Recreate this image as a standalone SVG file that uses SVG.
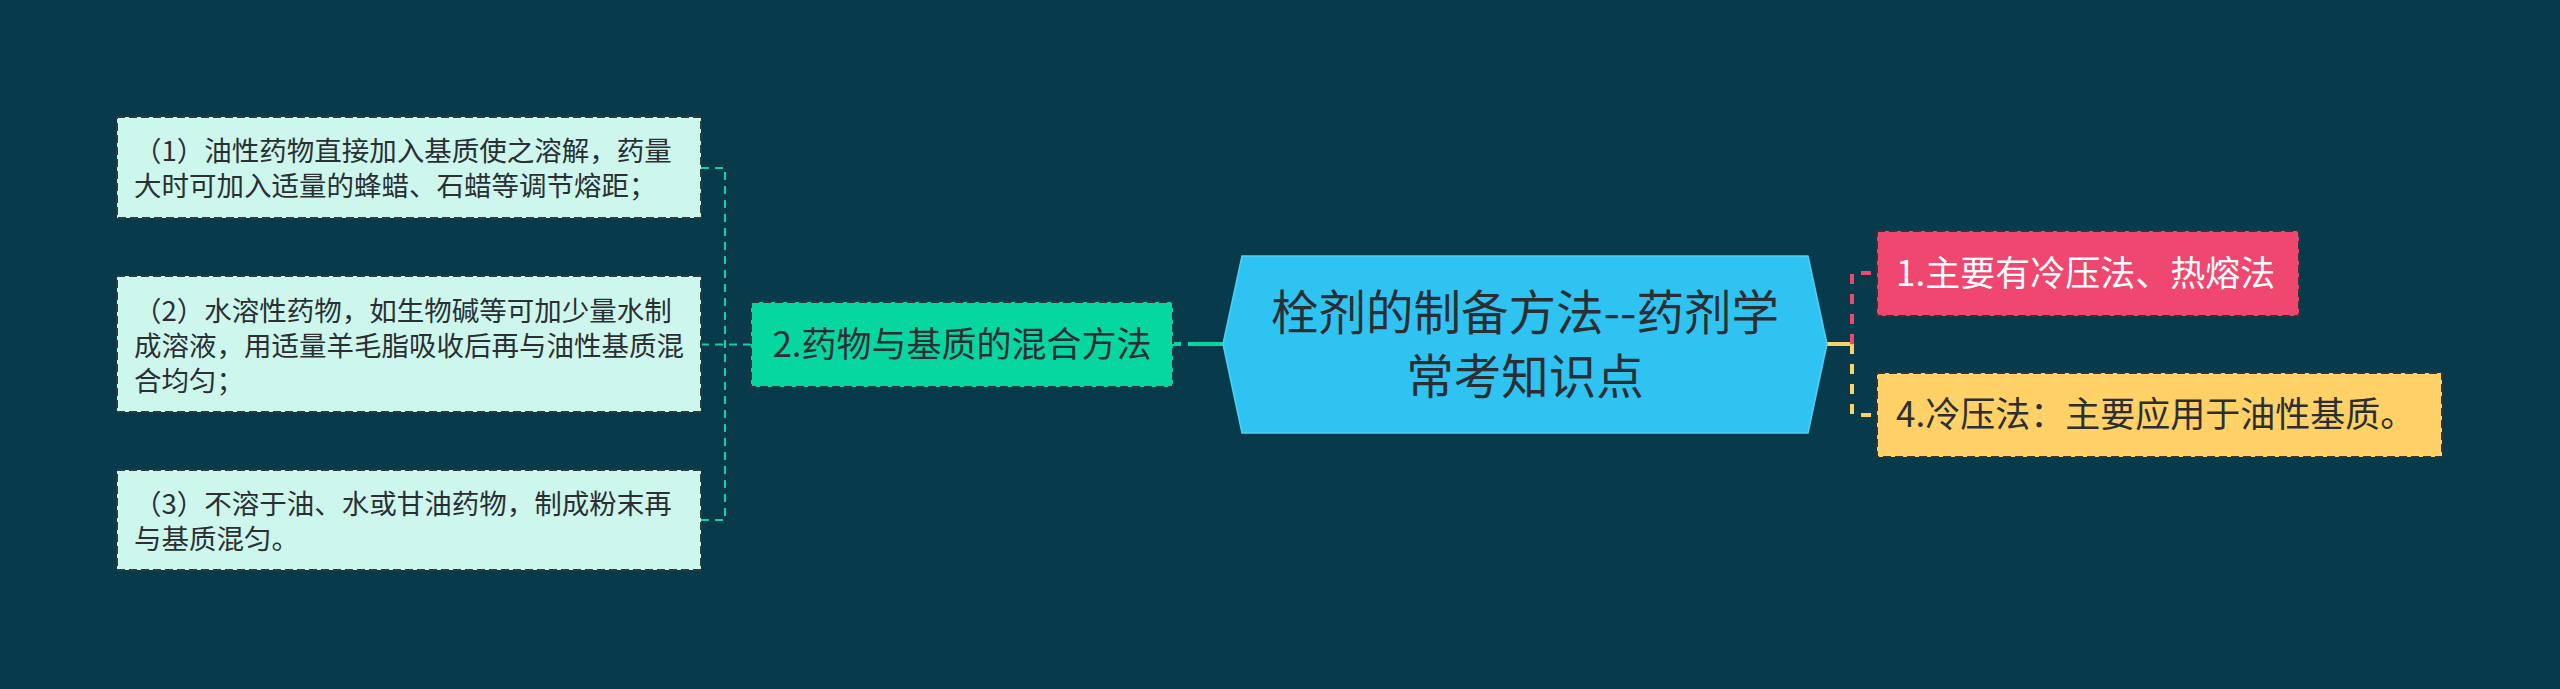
<svg xmlns="http://www.w3.org/2000/svg" width="2560" height="689" viewBox="0 0 2560 689">
<style>
text{font-family:"Noto Sans CJK SC","Noto Sans",sans-serif;fill:#2b2f33}
.leaf rect{fill:#cdf7ec;stroke:#2e3a40;stroke-width:2;stroke-dasharray:8 4}
.leaf text{font-size:27.5px}
.sub text{font-size:35px}
.box{stroke:#2e353b;stroke-width:2;stroke-dasharray:8 4}
.c-left{fill:none;stroke:#06d6a0;stroke-width:2;stroke-dasharray:8 6}
</style>
<rect width="2560" height="689" fill="#073b4c"/>
<g id="connectors">
<path class="c-left" d="M701,168 H725 V520 H701 M701,344.5 H751"/>
<path d="M1173,344 H1181 M1188,344 H1223" fill="none" stroke="#06d6a0" stroke-width="4"/>
<path d="M1827,344 H1852" fill="none" stroke="#ffd166" stroke-width="4"/>
<path d="M1852,344 V273 H1877" fill="none" stroke="#ef476f" stroke-width="4" stroke-dasharray="10 10"/>
<path d="M1852,344 V415 H1877" fill="none" stroke="#ffd166" stroke-width="4" stroke-dasharray="10 10"/>
</g>
<g id="root">
<polygon points="1242,256 1808,256 1827,344 1808,433 1242,433 1223,344" fill="#2fc3f2" stroke="#4fd0f6" stroke-width="1.5"/>
<text x="1525" y="330" font-size="47.5" text-anchor="middle">栓剂的制备方法--药剂学</text>
<text x="1525" y="394" font-size="47.5" text-anchor="middle">常考知识点</text>
</g>
<g id="n2" class="sub">
<rect class="box" x="751" y="302" width="422" height="85" fill="#06d6a0"/>
<text x="962" y="356.5" text-anchor="middle">2.药物与基质的混合方法</text>
</g>
<g id="n1" class="sub">
<rect class="box" x="1877" y="231" width="422" height="85" fill="#ef476f"/>
<text x="1896" y="285.5" style="fill:#ffffff">1.主要有冷压法、热熔法</text>
</g>
<g id="n4" class="sub">
<rect class="box" x="1877" y="373" width="565" height="84" fill="#ffd166"/>
<text x="1896" y="427">4.冷压法：主要应用于油性基质。</text>
</g>
<g id="leaf1" class="leaf">
<rect x="117" y="117" width="584" height="101"/>
<text x="134" y="161">（1）油性药物直接加入基质使之溶解，药量</text>
<text x="134" y="196">大时可加入适量的蜂蜡、石蜡等调节熔距；</text>
</g>
<g id="leaf2" class="leaf">
<rect x="117" y="276" width="584" height="136"/>
<text x="134" y="320.5">（2）水溶性药物，如生物碱等可加少量水制</text>
<text x="134" y="355.5">成溶液，用适量羊毛脂吸收后再与油性基质混</text>
<text x="134" y="390.5">合均匀；</text>
</g>
<g id="leaf3" class="leaf">
<rect x="117" y="470" width="584" height="100"/>
<text x="134" y="514">（3）不溶于油、水或甘油药物，制成粉末再</text>
<text x="134" y="549">与基质混匀。</text>
</g>
</svg>
